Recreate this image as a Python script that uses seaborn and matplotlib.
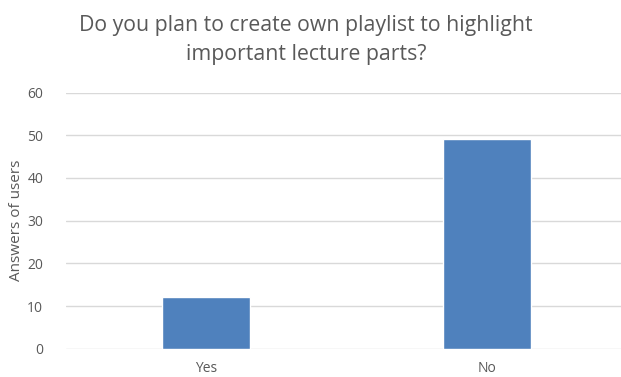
import matplotlib
matplotlib.use("Agg")
import matplotlib.pyplot as plt
import seaborn as sns
import pandas as pd

categories = ["Yes", "No"]
values = [12, 49]
yticks = [0, 10, 20, 30, 40, 50, 60]
title = "Do you plan to create own playlist to highlight\nimportant lecture parts?"
ylabel = "Answers of users"

sns.set_theme(style="white")
plt.rcParams['font.family'] = ['Open Sans', 'DejaVu Sans']

df = pd.DataFrame({"cat": categories, "val": values})

fig = plt.figure(figsize=(6.21, 3.77), dpi=100)
W, H = 621, 377
left, right = 65.5, 621
top, bottom = 92.5, 348.7
ax = fig.add_axes([left / W, 1 - bottom / H, (right - left) / W, (bottom - top) / H])

sns.barplot(data=df, x="cat", y="val", color="#4F81BD", width=0.313,
            saturation=1, ax=ax, zorder=3)

ax.set_xlim(-0.5, 1 + (621 - 487) / 281)
ax.set_ylim(0, 60)
ax.set_yticks(yticks)
ax.yaxis.grid(True, color="#D9D9D9", linewidth=1.0, zorder=0)
ax.xaxis.grid(False)
for s in ax.spines.values():
    s.set_visible(False)
ax.tick_params(axis="both", length=0, colors="#595959", labelsize=10)
ax.tick_params(axis="y", pad=16)
ax.tick_params(axis="x", pad=9)
ax.set_xlabel("")
ax.set_ylabel("")
fig.text(17 / W, 1 - 220 / H, ylabel, rotation=90, ha="center", va="center",
         color="#595959", fontsize=11)
fig.text(306 / W, 1 - 40 / H, title, ha="center", va="center", color="#595959",
         fontsize=15.3, linespacing=1.45)

fig.savefig("out.png", dpi=100)
